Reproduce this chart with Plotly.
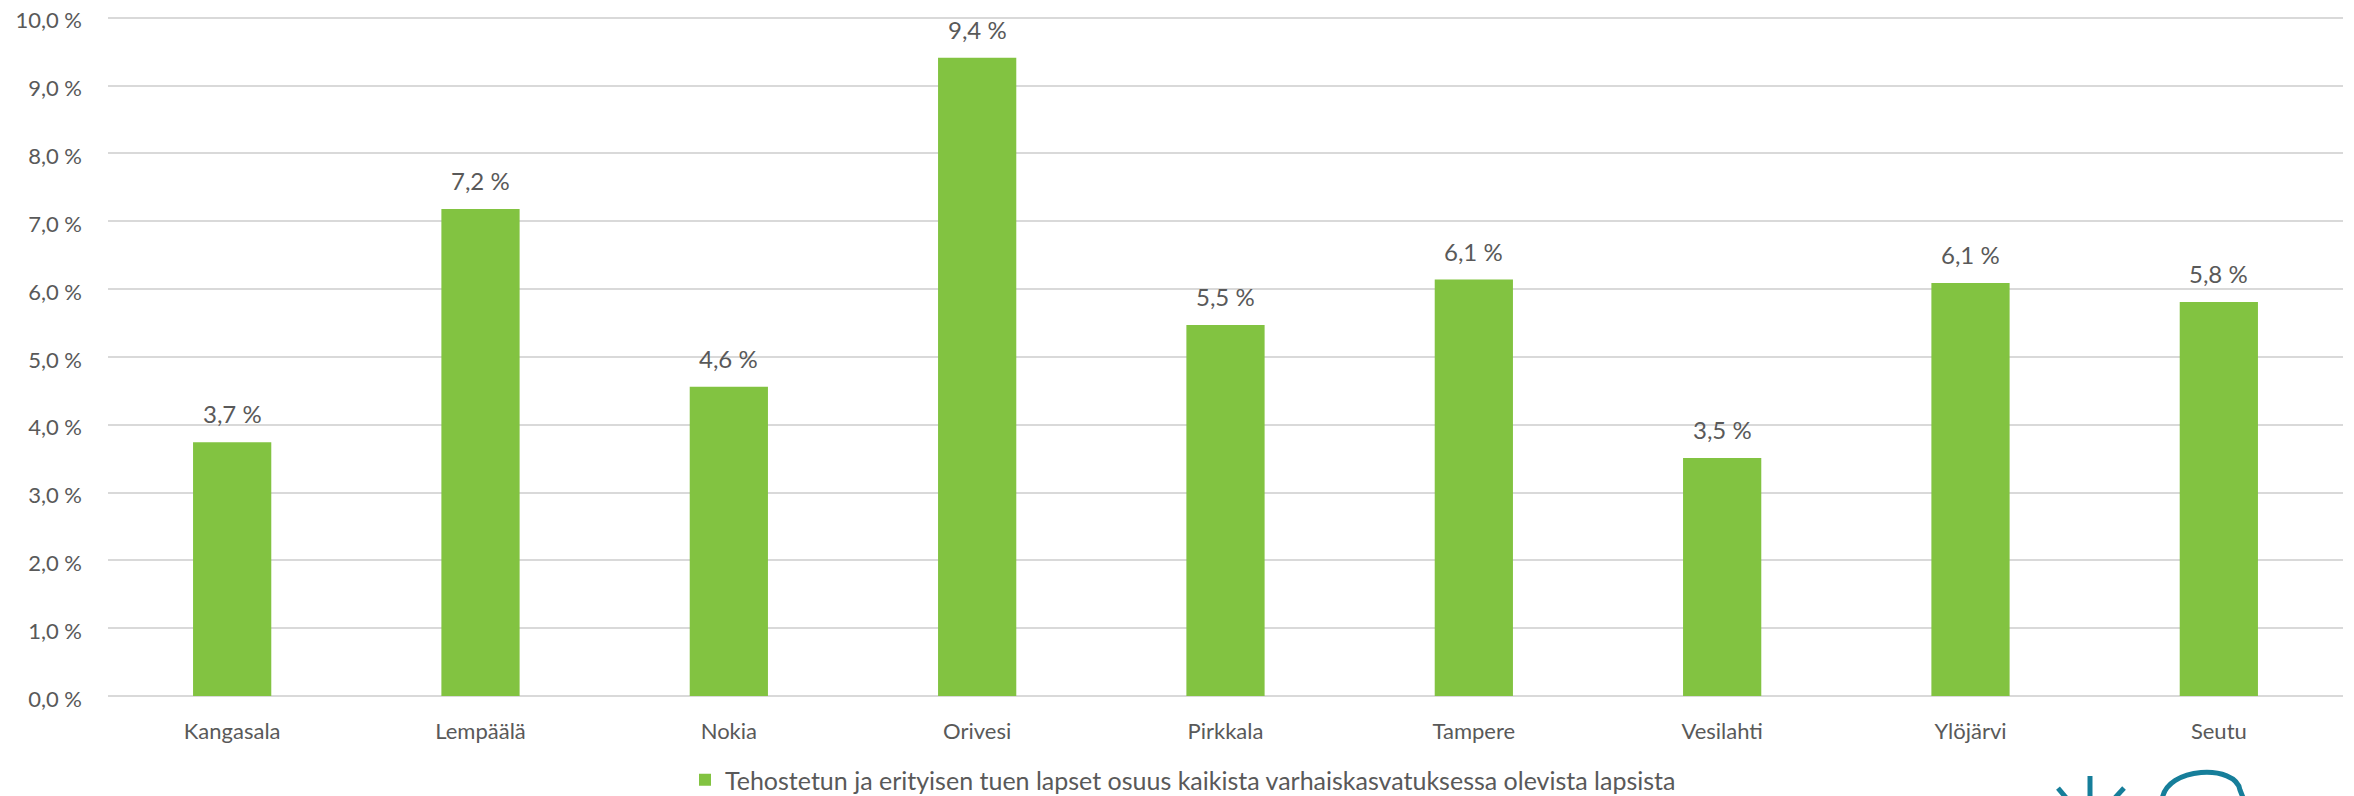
import plotly.graph_objects as go

categories = ["Kangasala", "Lempäälä", "Nokia", "Orivesi", "Pirkkala",
              "Tampere", "Vesilahti", "Ylöjärvi", "Seutu"]
values = [3.74, 7.18, 4.56, 9.41, 5.47, 6.14, 3.51, 6.09, 5.81]
series_name = "Tehostetun ja erityisen tuen lapset osuus kaikista varhaiskasvatuksessa olevista lapsista"
y_ticks = [0, 1, 2, 3, 4, 5, 6, 7, 8, 9, 10]
y_tick_labels = ["0,0 %", "1,0 %", "2,0 %", "3,0 %", "4,0 %", "5,0 %",
                 "6,0 %", "7,0 %", "8,0 %", "9,0 %", "10,0 %"]

# page offset (browser body margin)
OFF = 8
W, H = 2354 - OFF, 796 - OFF
Y_TOP = 10.1
UNIT = (696 - 18) / 10.0          # screen px per 1 %
# plot area in screen pixels: x 108..2343, y (18 - extra)..696
L = 108 - OFF
T = 18 - (Y_TOP - 10) * UNIT - OFF
R = W - (2343 - OFF)
B = H - (696 - OFF)
PW, PH = W - L - R, H - T - B

GREEN = "#82C341"
TEXT = "#595959"
GRID = "#D9D9D9"
TEAL = "#167E9A"
FONT = "Lato"

def px(x):
    # screen x -> paper
    return (x - OFF - L) / PW

def py(y):
    # screen y -> paper
    return (H - B - (y - OFF)) / PH

labels = [f"{v:.1f}".replace(".", ",") + " %" for v in values]

fig = go.Figure()
fig.add_trace(go.Bar(
    x=categories, y=values, name=series_name,
    marker=dict(color=GREEN, line=dict(width=0)),
    width=0.315, showlegend=True,
))

for c, v, t in zip(categories, values, labels):
    fig.add_annotation(x=c, y=v, text=t, showarrow=False, yanchor="bottom",
                       yshift=12, font=dict(family=FONT, size=24, color=TEXT))

# logo (partially visible, bottom right)
shapes = []
line = dict(color=TEAL, width=5)
shapes.append(dict(type="line", xref="paper", yref="paper",
                   x0=px(2090), y0=py(776), x1=px(2090), y1=py(800), line=line))
shapes.append(dict(type="line", xref="paper", yref="paper",
                   x0=px(2058), y0=py(788), x1=px(2068), y1=py(800), line=line))
shapes.append(dict(type="line", xref="paper", yref="paper",
                   x0=px(2124), y0=py(788), x1=px(2113), y1=py(800), line=line))
cloud = (f"M {px(2162)} {py(800)} "
         f"C {px(2166)} {py(766)}, {px(2236)} {py(764)}, {px(2240)} {py(790)} "
         f"L {px(2244)} {py(800)}")
shapes.append(dict(type="path", xref="paper", yref="paper", path=cloud, line=line))

fig.update_layout(
    width=W, height=H,
    margin=dict(l=L, r=R, t=T, b=B, pad=0, autoexpand=False),
    paper_bgcolor="white", plot_bgcolor="white",
    font=dict(family=FONT, color=TEXT),
    bargap=0.685,
    shapes=shapes,
    legend=dict(orientation="h", xref="container", yref="container",
                x=(1183 - OFF) / W, xanchor="center",
                y=1 - (780 - OFF) / H, yanchor="middle",
                font=dict(family=FONT, size=25, color=TEXT),
                itemsizing="constant", bgcolor="rgba(0,0,0,0)"),
    xaxis=dict(showgrid=False, showline=False, ticks="", automargin=False,
               tickfont=dict(family=FONT, size=22, color=TEXT),
               ticklabelstandoff=20, fixedrange=True),
    yaxis=dict(range=[0, Y_TOP], tickvals=y_ticks, ticktext=y_tick_labels,
               showgrid=True, gridcolor=GRID, gridwidth=2, automargin=False,
               zeroline=True, zerolinecolor=GRID, zerolinewidth=2,
               showline=False, ticks="", ticklabeloverflow="allow",
               ticklabelshift=3,
               tickfont=dict(family=FONT, size=22, color=TEXT),
               ticklabelstandoff=25, fixedrange=True),
)

fig.write_html("out.html")
